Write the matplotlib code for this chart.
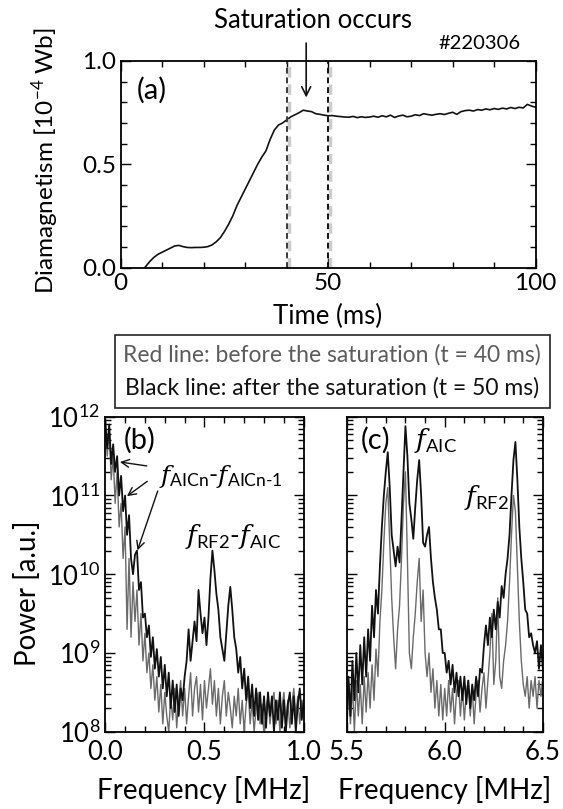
import numpy as np
import matplotlib
matplotlib.use("Agg")
import matplotlib.pyplot as plt
from matplotlib.patches import Rectangle
from matplotlib.ticker import MultipleLocator, LogLocator, NullFormatter

plt.rcParams['font.family'] = ['Lato', 'DejaVu Sans']
plt.rcParams['mathtext.fontset'] = 'custom'
plt.rcParams['mathtext.rm'] = 'Lato'
plt.rcParams['mathtext.it'] = 'DejaVu Serif:italic'
plt.rcParams['mathtext.bf'] = 'Lato:bold'

# (a) diamagnetism, 1 ms steps
time_ms = np.arange(0, 101)
diamag = [-0.06, -0.06, -0.05, -0.05, -0.04, -0.02, 0.005, 0.03, 0.05, 0.065,
          0.075, 0.085, 0.095, 0.105, 0.108, 0.102, 0.098, 0.097, 0.098, 0.098,
          0.099, 0.102, 0.11, 0.125, 0.145, 0.175, 0.21, 0.25, 0.3, 0.34,
          0.38, 0.42, 0.46, 0.5, 0.535, 0.565, 0.62, 0.665, 0.69, 0.7,
          0.715, 0.73, 0.74, 0.75, 0.762, 0.758, 0.755, 0.745, 0.742, 0.738,
          0.735, 0.736, 0.733, 0.731, 0.729, 0.728, 0.732, 0.726, 0.73, 0.727,
          0.729, 0.733, 0.728, 0.735, 0.73, 0.738, 0.727, 0.734, 0.738, 0.73,
          0.733, 0.74, 0.736, 0.745, 0.741, 0.738, 0.742, 0.745, 0.741, 0.747,
          0.752, 0.742, 0.755, 0.76, 0.762, 0.758, 0.765, 0.762, 0.768, 0.764,
          0.77, 0.766, 0.772, 0.768, 0.775, 0.77, 0.776, 0.773, 0.79, 0.782, 0.776]
t_before = 40
t_after = 50

# (b) low frequency spectra, log10 power, 0.01 MHz steps
freq_b = np.round(np.arange(0, 101) * 0.01, 2)
logp_b_after = [11.95, 11.6, 11.9, 11.4, 11.65, 11.3, 11.5, 11.0, 11.25, 10.8,
                11.0, 10.5, 10.75, 10.2, 10.0, 10.25, 10.3, 9.8, 9.9, 9.45,
                9.5, 9.2, 9.35, 8.95, 9.2, 8.8, 9.05, 8.7, 8.95, 8.55,
                8.85, 8.45, 8.75, 8.3, 8.65, 8.25, 8.6, 8.2, 8.55, 8.4,
                8.7, 8.9, 9.3, 8.9, 9.15, 9.4, 9.15, 9.8, 9.5, 9.25,
                9.45, 9.1, 9.45, 9.95, 10.3, 10.05, 9.75, 9.55, 9.2, 9.05,
                8.9, 9.25, 9.6, 9.84, 9.55, 9.2, 9.05, 8.75, 8.95, 8.55,
                8.8, 8.4, 8.7, 8.3, 8.6, 8.2, 8.55, 8.15, 8.5, 8.1,
                8.45, 8.05, 8.5, 8.2, 8.45, 8.0, 8.4, 8.15, 8.5, 8.05,
                8.4, 8.0, 8.35, 8.5, 8.1, 8.45, 8.0, 8.35, 8.55, 8.15, 8.4]
logp_b_before = [12.0, 11.5, 11.85, 11.2, 11.5, 10.9, 11.3, 10.6, 10.9, 10.2,
                 10.6, 9.3, 10.2, 9.2, 9.9, 9.4, 9.8, 9.1, 9.5, 8.9,
                 9.25, 8.75, 9.0, 8.55, 8.85, 8.4, 8.7, 8.25, 8.6, 8.1,
                 8.5, 8.2, 8.0, 8.45, 8.15, 8.55, 8.05, 8.4, 8.65, 8.2,
                 8.55, 8.1, 8.45, 8.75, 8.2, 8.55, 8.7, 8.25, 8.6, 8.15,
                 8.65, 8.3, 8.55, 8.8, 8.35, 8.65, 8.2, 8.55, 8.1, 8.45,
                 8.65, 8.2, 8.5, 8.3, 8.05, 8.45, 8.2, 8.55, 8.1, 8.4,
                 8.0, 8.35, 8.55, 8.1, 8.4, 8.0, 8.3, 8.5, 8.1, 8.35,
                 7.95, 8.3, 8.45, 8.1, 8.35, 8.5, 8.1, 8.4, 8.0, 8.3,
                 8.5, 8.15, 8.4, 8.05, 8.35, 8.55, 8.2, 8.45, 8.1, 8.4, 8.25]

# (c) high frequency spectra, log10 power, 0.01 MHz steps
freq_c = np.round(5.5 + np.arange(0, 101) * 0.01, 2)
logp_c_after = [8.1, 8.7, 8.2, 8.9, 8.4, 9.0, 8.5, 9.1, 8.6, 9.2,
                8.7, 9.3, 8.9, 9.6, 9.2, 9.8, 9.5, 10.1, 10.6, 11.0,
                11.3, 11.55, 11.1, 10.5, 10.3, 10.1, 10.35, 10.15, 10.7, 11.3,
                11.88, 11.5, 10.9, 10.7, 10.45, 10.85, 11.2, 11.45, 11.0, 10.4,
                10.35, 10.5, 10.6, 10.2, 9.9, 9.7, 9.55, 9.3, 9.3, 9.0,
                9.0, 8.75, 8.9, 8.6, 8.85, 8.5, 8.75, 8.45, 8.7, 8.4,
                8.7, 8.35, 8.65, 8.3, 8.6, 8.4, 8.7, 8.45, 8.8, 8.75,
                9.1, 9.35, 9.1, 9.45, 9.2, 9.55, 9.3, 9.65, 9.45, 9.85,
                9.7, 10.0, 10.2, 10.5, 11.0, 11.45, 11.68, 11.2, 10.6, 10.2,
                9.9, 9.55, 9.5, 9.2, 9.25, 9.1, 9.0, 9.15, 8.8, 9.1, 8.8]
logp_c_before = [7.9, 8.5, 8.1, 8.6, 8.0, 8.65, 8.2, 8.6, 8.1, 8.7,
                 8.25, 8.75, 8.3, 8.85, 8.4, 9.05, 8.7, 9.4, 9.8, 10.4,
                 10.9, 11.1, 10.4, 9.7, 9.2, 8.8, 9.3, 9.6, 10.2, 10.9,
                 11.3, 10.2, 9.0, 8.8, 9.2, 9.5, 9.9, 10.2, 9.4, 9.8,
                 9.0, 8.7, 9.0, 8.5, 8.8, 8.3, 8.65, 8.2, 8.6, 8.15,
                 8.55, 8.2, 8.65, 8.25, 8.55, 8.1, 8.5, 8.65, 8.2, 8.55,
                 8.15, 8.5, 8.65, 8.2, 8.55, 8.1, 8.5, 8.65, 8.25, 8.55,
                 8.75, 8.3, 8.65, 9.0, 9.5, 8.6, 8.9, 9.7, 8.7, 8.55,
                 8.9, 9.1, 9.4, 9.9, 10.5, 11.0, 10.8, 10.1, 9.4, 8.9,
                 8.6, 8.45, 8.7, 8.3, 8.65, 8.45, 8.7, 8.3, 8.65, 8.45, 8.7]

gray = '#6a6a6a'
fig = plt.figure(figsize=(5.63, 8.09), dpi=100)

# ---- panel (a)
ax = fig.add_axes([0.2144, 0.6691, 0.737, 0.2555])
ax.plot(time_ms, diamag, color='#111111', lw=1.2)
ax.axvline(t_before + 0.5, color='#cccccc', lw=2.5, ls=(0, (3, 2)))
ax.axvline(t_before, color='#3a3a3a', lw=1.4, ls=(0, (3, 2)))
ax.axvline(t_after + 0.5, color='#cccccc', lw=2.5, ls=(0, (3, 2)))
ax.axvline(t_after, color='#111111', lw=1.4, ls=(0, (3, 2)))
ax.set_xlim(0, 100)
ax.set_ylim(0, 1.0)
ax.xaxis.set_major_locator(MultipleLocator(50))
ax.xaxis.set_minor_locator(MultipleLocator(10))
ax.yaxis.set_major_locator(MultipleLocator(0.5))
ax.yaxis.set_minor_locator(MultipleLocator(0.1))
ax.yaxis.set_major_formatter(plt.FormatStrFormatter('%.1f'))
ax.tick_params(which='both', direction='in', top=True, right=True, labelsize=17.5, width=1)
ax.tick_params(which='major', length=7)
ax.tick_params(which='minor', length=4)
for s in ax.spines.values():
    s.set_linewidth(1.3)
ax.text(3.9, 0.86, '(a)', fontsize=21, ha='left', va='center')
ax.text(86.4, 1.087, '#220306', fontsize=14.5, ha='center', va='center', clip_on=False)
ax.text(46.4, 1.198, 'Saturation occurs', fontsize=18.5, ha='center', va='center', clip_on=False)
ax.annotate('', xy=(44.7, 0.81), xytext=(44.7, 1.10), annotation_clip=False,
            arrowprops=dict(arrowstyle='->', color='#111111', lw=1.2, mutation_scale=16))
fig.text(0.081, 0.802, r'Diamagnetism [10$^{\mathrm{-4}}$ Wb]', fontsize=17.5,
         rotation=90, ha='center', va='center')
fig.text(0.582, 0.609, 'Time (ms)', fontsize=18.5, ha='center', va='center')

# ---- legend box
fig.patches.append(Rectangle((0.2036, 0.4957), 0.7733, 0.0902, transform=fig.transFigure,
                             fill=False, edgecolor='#222222', lw=1.2))
fig.text(0.590, 0.561, 'Red line: before the saturation (t = 40 ms)', fontsize=16.5,
         color='#5c5c5c', ha='center', va='center')
fig.text(0.590, 0.520, 'Black line: after the saturation (t = 50 ms)', fontsize=16.5,
         color='#111111', ha='center', va='center')

# ---- panel (b)
axb = fig.add_axes([0.1869, 0.0955, 0.3526, 0.3894])
axb.plot(freq_b, 10 ** np.array(logp_b_before), color=gray, lw=1.0)
axb.plot(freq_b, 10 ** np.array(logp_b_after), color='#111111', lw=1.3)
axb.set_xlim(0, 1.0)
axb.xaxis.set_major_locator(MultipleLocator(0.5))
axb.xaxis.set_major_formatter(plt.FormatStrFormatter('%.1f'))

# ---- panel (c)
axc = fig.add_axes([0.6155, 0.0955, 0.3488, 0.3894])
axc.plot(freq_c, 10 ** np.array(logp_c_before), color=gray, lw=1.0)
axc.plot(freq_c, 10 ** np.array(logp_c_after), color='#111111', lw=1.3)
axc.set_xlim(5.5, 6.5)
axc.xaxis.set_major_locator(MultipleLocator(0.5))
axc.xaxis.set_major_formatter(plt.FormatStrFormatter('%.1f'))

for a in (axb, axc):
    a.set_yscale('log')
    a.set_ylim(1e8, 1e12)
    a.yaxis.set_major_locator(LogLocator(base=10, numticks=10))
    a.yaxis.set_minor_locator(LogLocator(base=10, subs=np.arange(2, 10), numticks=10))
    a.yaxis.set_minor_formatter(NullFormatter())
    a.xaxis.set_minor_locator(MultipleLocator(0.1))
    a.tick_params(which='both', direction='in', top=True, right=True, labelsize=18.5, width=1)
    a.tick_params(which='major', length=7)
    a.tick_params(which='minor', length=4)
    for s in a.spines.values():
        s.set_linewidth(1.3)
axc.tick_params(labelleft=False)
axb.tick_params(axis='x', pad=6)
axc.tick_params(axis='x', pad=6)

axb.text(0.095, 10 ** 11.70, '(b)', fontsize=21, ha='left', va='center')
axb.text(0.27, 10 ** 11.24, '$f_{\\mathrm{AICn}}$-$f_{\\mathrm{AICn\u20101}}$', fontsize=18,
         ha='left', va='center')
axb.text(0.40, 10 ** 10.48, r'$f_{\mathrm{RF2}}$-$f_{\mathrm{AIC}}$', fontsize=19,
         ha='left', va='center')
arrow_tips = [(0.06, 11.43), (0.098, 10.97), (0.158, 10.27)]
arrow_tails = [(0.223, 11.37), (0.223, 11.2), (0.269, 11.09)]
for (xt, yt), (xs, ys) in zip(arrow_tips, arrow_tails):
    axb.annotate('', xy=(xt, 10 ** yt), xytext=(xs, 10 ** ys),
                 arrowprops=dict(arrowstyle='->', color='#111111', lw=1.0, mutation_scale=14))

axc.text(5.57, 10 ** 11.70, '(c)', fontsize=21, ha='left', va='center')
axc.text(5.845, 10 ** 11.70, r'$f_{\mathrm{AIC}}$', fontsize=19, ha='left', va='center')
axc.text(6.10, 10 ** 10.98, r'$f_{\mathrm{RF2}}$', fontsize=19, ha='left', va='center')

fig.text(0.048, 0.267, 'Power [a.u.]', fontsize=20, rotation=90, ha='center', va='center')
fig.text(0.361, 0.0235, 'Frequency [MHz]', fontsize=20, ha='center', va='center')
fig.text(0.790, 0.0235, 'Frequency [MHz]', fontsize=20, ha='center', va='center')

fig.savefig('out.png', dpi=100)
